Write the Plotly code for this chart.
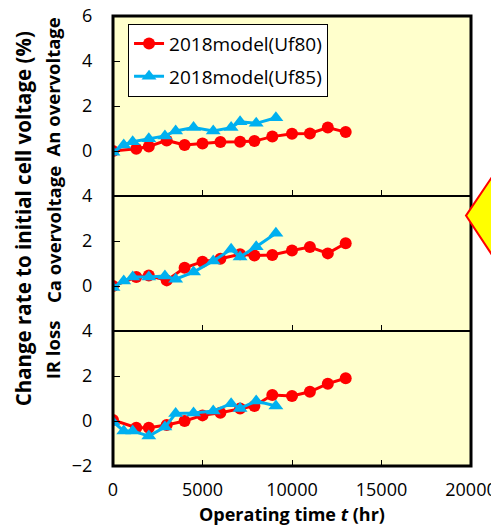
import plotly.graph_objects as go
from plotly.subplots import make_subplots

# ---------------- data ----------------
t_uf80 = [0, 1300, 2000, 3000, 4000, 5000, 6000, 7100, 7900, 8900, 10000, 11000, 12000, 13000]
an_uf80 = [0.0, 0.1, 0.2, 0.47, 0.27, 0.33, 0.4, 0.41, 0.44, 0.64, 0.77, 0.78, 1.04, 0.84]
ca_uf80 = [0.0, 0.4, 0.47, 0.25, 0.81, 1.08, 1.21, 1.41, 1.36, 1.38, 1.58, 1.73, 1.45, 1.9]
ir_uf80 = [0.05, -0.3, -0.3, -0.18, 0.0, 0.25, 0.37, 0.56, 0.67, 1.16, 1.11, 1.3, 1.66, 1.9]

t_uf85 = [0, 600, 1100, 2000, 2900, 3500, 4500, 5600, 6600, 7100, 8000, 9100]
an_uf85 = [-0.05, 0.27, 0.41, 0.55, 0.67, 0.89, 1.04, 0.89, 1.04, 1.3, 1.23, 1.48]
ca_uf85 = [-0.07, 0.22, 0.4, 0.4, 0.44, 0.3, 0.62, 1.11, 1.63, 1.29, 1.75, 2.34]
ir_uf85 = [-0.04, -0.44, -0.44, -0.67, -0.27, 0.33, 0.36, 0.44, 0.77, 0.56, 0.89, 0.67]

series_names = ["2018model(Uf80)", "2018model(Uf85)"]
panel_labels = ["An overvoltage", "Ca overvoltage", "IR loss"]
x_ticks = [0, 5000, 10000, 15000, 20000]
x_ticktext = ["0", "5000", "10000", "15000", "20000"]
y_ticks = [[0, 2, 4, 6], [0, 2, 4], [-2, 0, 2, 4]]
y_ranges = [[-2, 6], [-2, 4], [-2, 4]]

RED = "#FF0000"
BLUE = "#00B0F0"
FONT = "Open Sans"

fig = make_subplots(rows=3, cols=1, shared_xaxes=False, vertical_spacing=0,
                    row_heights=[8, 6, 6])

panels = [(an_uf80, an_uf85), (ca_uf80, ca_uf85), (ir_uf80, ir_uf85)]
for i, (v80, v85) in enumerate(panels):
    r = i + 1
    fig.add_trace(go.Scatter(x=t_uf80, y=v80, mode="lines+markers", name=series_names[0],
                             line=dict(color=RED, width=3),
                             marker=dict(symbol="circle", size=12, color=RED),
                             showlegend=(i == 0), legendgroup="a"), row=r, col=1)
    fig.add_trace(go.Scatter(x=t_uf85, y=v85, mode="lines+markers", name=series_names[1],
                             line=dict(color=BLUE, width=3),
                             marker=dict(symbol="triangle-up", size=13, color=BLUE),
                             showlegend=(i == 0), legendgroup="b"), row=r, col=1)

for i in range(3):
    r = i + 1
    fig.update_xaxes(range=[0, 20000], tickvals=x_ticks, ticktext=x_ticktext,
                     ticks="inside", ticklen=6, automargin=False,
                     tickcolor="black", tickwidth=1, showgrid=False, zeroline=False,
                     showline=True, mirror=True, linecolor="black", linewidth=1.2,
                     showticklabels=(r == 3), row=r, col=1)
    fig.update_yaxes(range=y_ranges[i], tickvals=y_ticks[i], ticks="inside", ticklen=7,
                     automargin=False, ticklabeloverflow="allow",
                     tickcolor="black", tickwidth=1, showgrid=False, zeroline=False,
                     showline=True, mirror=True, linecolor="black", linewidth=1.2,
                     ticklabelstandoff=16, row=r, col=1)

fig.update_xaxes(ticklabelstandoff=7, ticklabeloverflow="allow", row=3, col=1)

fig.update_layout(
    width=491, height=523,
    margin=dict(l=105, r=28, t=8, b=65),
    paper_bgcolor="white",
    plot_bgcolor="#FFFFCC",
    font=dict(family=FONT, size=18, color="black"),
    showlegend=True,
    legend=dict(x=0.042, y=0.983, xanchor="left", yanchor="top",
                bgcolor="white", bordercolor="black", borderwidth=1,
                font=dict(family=FONT, size=19, color="black"),
                tracegroupgap=5),
)

# outer border
fig.add_shape(type="rect", xref="paper", yref="paper", x0=0, y0=0, x1=1, y1=1,
              line=dict(color="black", width=3), layer="above")

# axis titles as annotations
fig.add_annotation(text="<b>Change rate to initial cell voltage (%)</b>", textangle=-90,
                   xref="paper", yref="paper", x=-0.249, y=0.55, showarrow=False,
                   xanchor="center", yanchor="middle", font=dict(family=FONT, size=20.5))
label_y = [0.843, 0.515, 0.259]
for lab, yy in zip(panel_labels, label_y):
    fig.add_annotation(text="<b>" + lab + "</b>", textangle=-90,
                       xref="paper", yref="paper", x=-0.168, y=yy, showarrow=False,
                       xanchor="center", yanchor="middle", font=dict(family=FONT, size=18.5))
fig.add_annotation(text="<b>Operating time <i>t</i> (hr)</b>",
                   xref="paper", yref="paper", x=0.5, y=-0.107, showarrow=False,
                   xanchor="center", yanchor="middle", font=dict(family=FONT, size=18))

# yellow arrow on the right
fig.add_shape(type="path", xref="paper", yref="paper",
              path="M 0.986 0.5565 L 1.0726 0.6585 L 1.0726 0.6208 L 1.12 0.6208 "
                   "L 1.12 0.51 L 1.0726 0.51 L 1.0726 0.4523 Z",
              fillcolor="#FFFF00", line=dict(color="#FF0000", width=2), layer="above")

fig.write_html("out.html")
